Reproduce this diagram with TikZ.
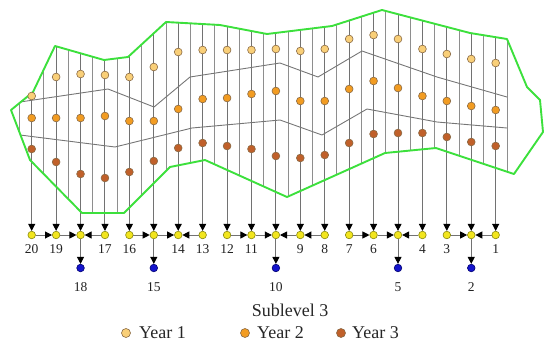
\documentclass[tikz,border=0pt]{standalone}
\usepackage{fontspec}
\setmainfont{Liberation Serif}
\usetikzlibrary{arrows.meta}
\definecolor{polygreen}{HTML}{3CE03C}
\definecolor{ringgray}{HTML}{8E8E8E}
\definecolor{yeargray}{HTML}{767676}
\definecolor{yoneC}{HTML}{F9CF78}
\definecolor{ytwoC}{HTML}{F29C22}
\definecolor{ythreeC}{HTML}{C0602A}
\definecolor{dotedge}{HTML}{8A6A45}
\definecolor{dpyellow}{HTML}{F2E51E}
\definecolor{dpedge}{HTML}{8A8A10}
\definecolor{outblue}{HTML}{1414CC}
\definecolor{outedge}{HTML}{000070}
\definecolor{labelC}{HTML}{222222}
\begin{document}
\begin{tikzpicture}[x=1pt,y=-1pt,
  ring/.style={draw=ringgray,line width=0.95pt},
  colline/.style={draw=ringgray!80!black,line width=0.95pt,-{Triangle[color=black,length=7pt,width=7pt]}},
  flow/.style={draw=ringgray!80!black,line width=0.95pt,-{Triangle[color=black,length=7pt,width=7pt]}},
  yearline/.style={draw=yeargray,line width=0.9pt},
  border/.style={draw=polygreen,line width=1.9pt,line join=round},
  dot/.style={circle,draw=dotedge,line width=0.6pt,minimum size=7.8pt,inner sep=0pt},
  yone/.style={dot,fill=yoneC},
  ytwo/.style={dot,fill=ytwoC},
  ythree/.style={dot,fill=ythreeC},
  dpoint/.style={circle,draw=dpedge,fill=dpyellow,line width=0.6pt,minimum size=7.6pt,inner sep=0pt},
  outlet/.style={circle,draw=outedge,fill=outblue,line width=0.6pt,minimum size=7.6pt,inner sep=0pt},
  numlab/.style={text=labelC,font=\fontsize{13.5}{15}\selectfont,inner sep=0pt},
  legtext/.style={text=black!85,font=\fontsize{18}{21}\selectfont,inner sep=0pt,anchor=west}
]
\useasboundingbox (0,0) rectangle (550,349);

% drawpoints
\foreach \i in {1,...,20} {
  \pgfmathsetmacro{\xx}{31.7+24.42*(20-\i)}
  \node[dpoint] (d\i) at (\xx,235) {};
}
% outlets
\foreach \i in {18,15,10,5,2} {
  \pgfmathsetmacro{\xx}{31.7+24.42*(20-\i)}
  \node[outlet] (b\i) at (\xx,268) {};
  \node[numlab] (lb\i) at (\xx,287) {\i};
}
\foreach \i in {20,19,17,16,14,13,12,11,9,8,7,6,4,3,1} {
  \pgfmathsetmacro{\xx}{31.7+24.42*(20-\i)}
  \node[numlab] (l\i) at (\xx,249.5) {\i};
}

% intermediate ring lines clipped by the stope outline
\begin{scope}
\clip (11,110) -- (33,92) -- (55,46) -- (104,60) -- (128,57) -- (166,22) -- (220,25) -- (267,34) -- (332,26) -- (382,10) -- (470,33) -- (507,39) -- (527,87) -- (540,100) -- (543,132) -- (514,174) -- (436,148) -- (385,153) -- (287,197) -- (205,160) -- (170,167) -- (124,213) -- (82,213) -- (30,160) -- cycle;
\foreach \j in {0,...,20} {
  \pgfmathsetmacro{\xx}{31.7+24.42*\j-12.21}
  \draw[ring] (\xx,0) -- (\xx,240);
}
\end{scope}

% column ring lines to drawpoints
\begin{scope}
\clip (0,349) -- (0,110) -- (11,110) -- (33,92) -- (55,46) -- (104,60) -- (128,57) -- (166,22) -- (220,25) -- (267,34) -- (332,26) -- (382,10) -- (470,33) -- (507,39) -- (550,39) -- (550,349) -- cycle;
\foreach \i in {1,...,20} {
  \pgfmathsetmacro{\xx}{31.7+24.42*(20-\i)}
  \coordinate (t\i) at (\xx,0);
  \draw[colline] (t\i) -- (d\i);
}
\end{scope}

% year boundaries
\draw[yearline] (20,102) -- (108,89) -- (154,107) -- (190,77) -- (280,63) -- (318,77) -- (362,51) -- (437,77) -- (507,97);
\draw[yearline] (20,135) -- (115,147) -- (192,128) -- (280,120) -- (322,135) -- (367,109) -- (437,122) -- (507,128);

% outline
\draw[border] (11,110) -- (33,92) -- (55,46) -- (104,60) -- (128,57) -- (166,22) -- (220,25) -- (267,34) -- (332,26) -- (382,10) -- (470,33) -- (507,39) -- (527,87) -- (540,100) -- (543,132) -- (514,174) -- (436,148) -- (385,153) -- (287,197) -- (205,160) -- (170,167) -- (124,213) -- (82,213) -- (30,160) -- cycle;

% extraction dots per year
\foreach \j/\a/\b/\c in {0/96/118/149, 1/77/118/162, 2/74/118/174, 3/75/116/178, 4/77/121/172,
  5/67/121/161, 6/52/109/148, 7/50/99/143, 8/50/98/146, 9/50/94/149, 10/49/91/156,
  11/51/101/158, 12/49/101/155, 13/39/89/143, 14/35/81/134, 15/39/88/133, 16/49/96/133,
  17/54/101/137, 18/59/106/142, 19/63/110/146} {
  \pgfmathsetmacro{\xx}{31.7+24.42*\j}
  \node[yone] (p1-\j) at (\xx,\a) {};
  \node[ytwo] (p2-\j) at (\xx,\b) {};
  \node[ythree] (p3-\j) at (\xx,\c) {};
}

% flows along the drift
\draw[flow] (d20) -- (d19);
\draw[flow] (d19) -- (d18);
\draw[flow] (d17) -- (d18);
\draw[flow] (d16) -- (d15);
\draw[flow] (d15) -- (d14);
\draw[flow] (d13) -- (d14);
\draw[flow] (d12) -- (d11);
\draw[flow] (d11) -- (d10);
\draw[flow] (d9) -- (d10);
\draw[flow] (d8) -- (d9);
\draw[flow] (d7) -- (d6);
\draw[flow] (d6) -- (d5);
\draw[flow] (d4) -- (d5);
\draw[flow] (d3) -- (d2);
\draw[flow] (d1) -- (d2);
\foreach \i in {18,15,10,5,2} {
  \draw[flow] (d\i) -- (b\i);
}

% title and legend
\node[text=black!85,font=\fontsize{18}{21}\selectfont,inner sep=0pt] (title) at (290,310) {Sublevel 3};
\node[yone,minimum size=9pt] (k1) at (126,333) {};
\node[legtext] (k1t) at (139,333) {Year 1};
\node[ytwo,minimum size=9pt] (k2) at (245,333) {};
\node[legtext] (k2t) at (257,333) {Year 2};
\node[ythree,minimum size=9pt] (k3) at (341,333) {};
\node[legtext] (k3t) at (352,333) {Year 3};
\end{tikzpicture}
\end{document}
